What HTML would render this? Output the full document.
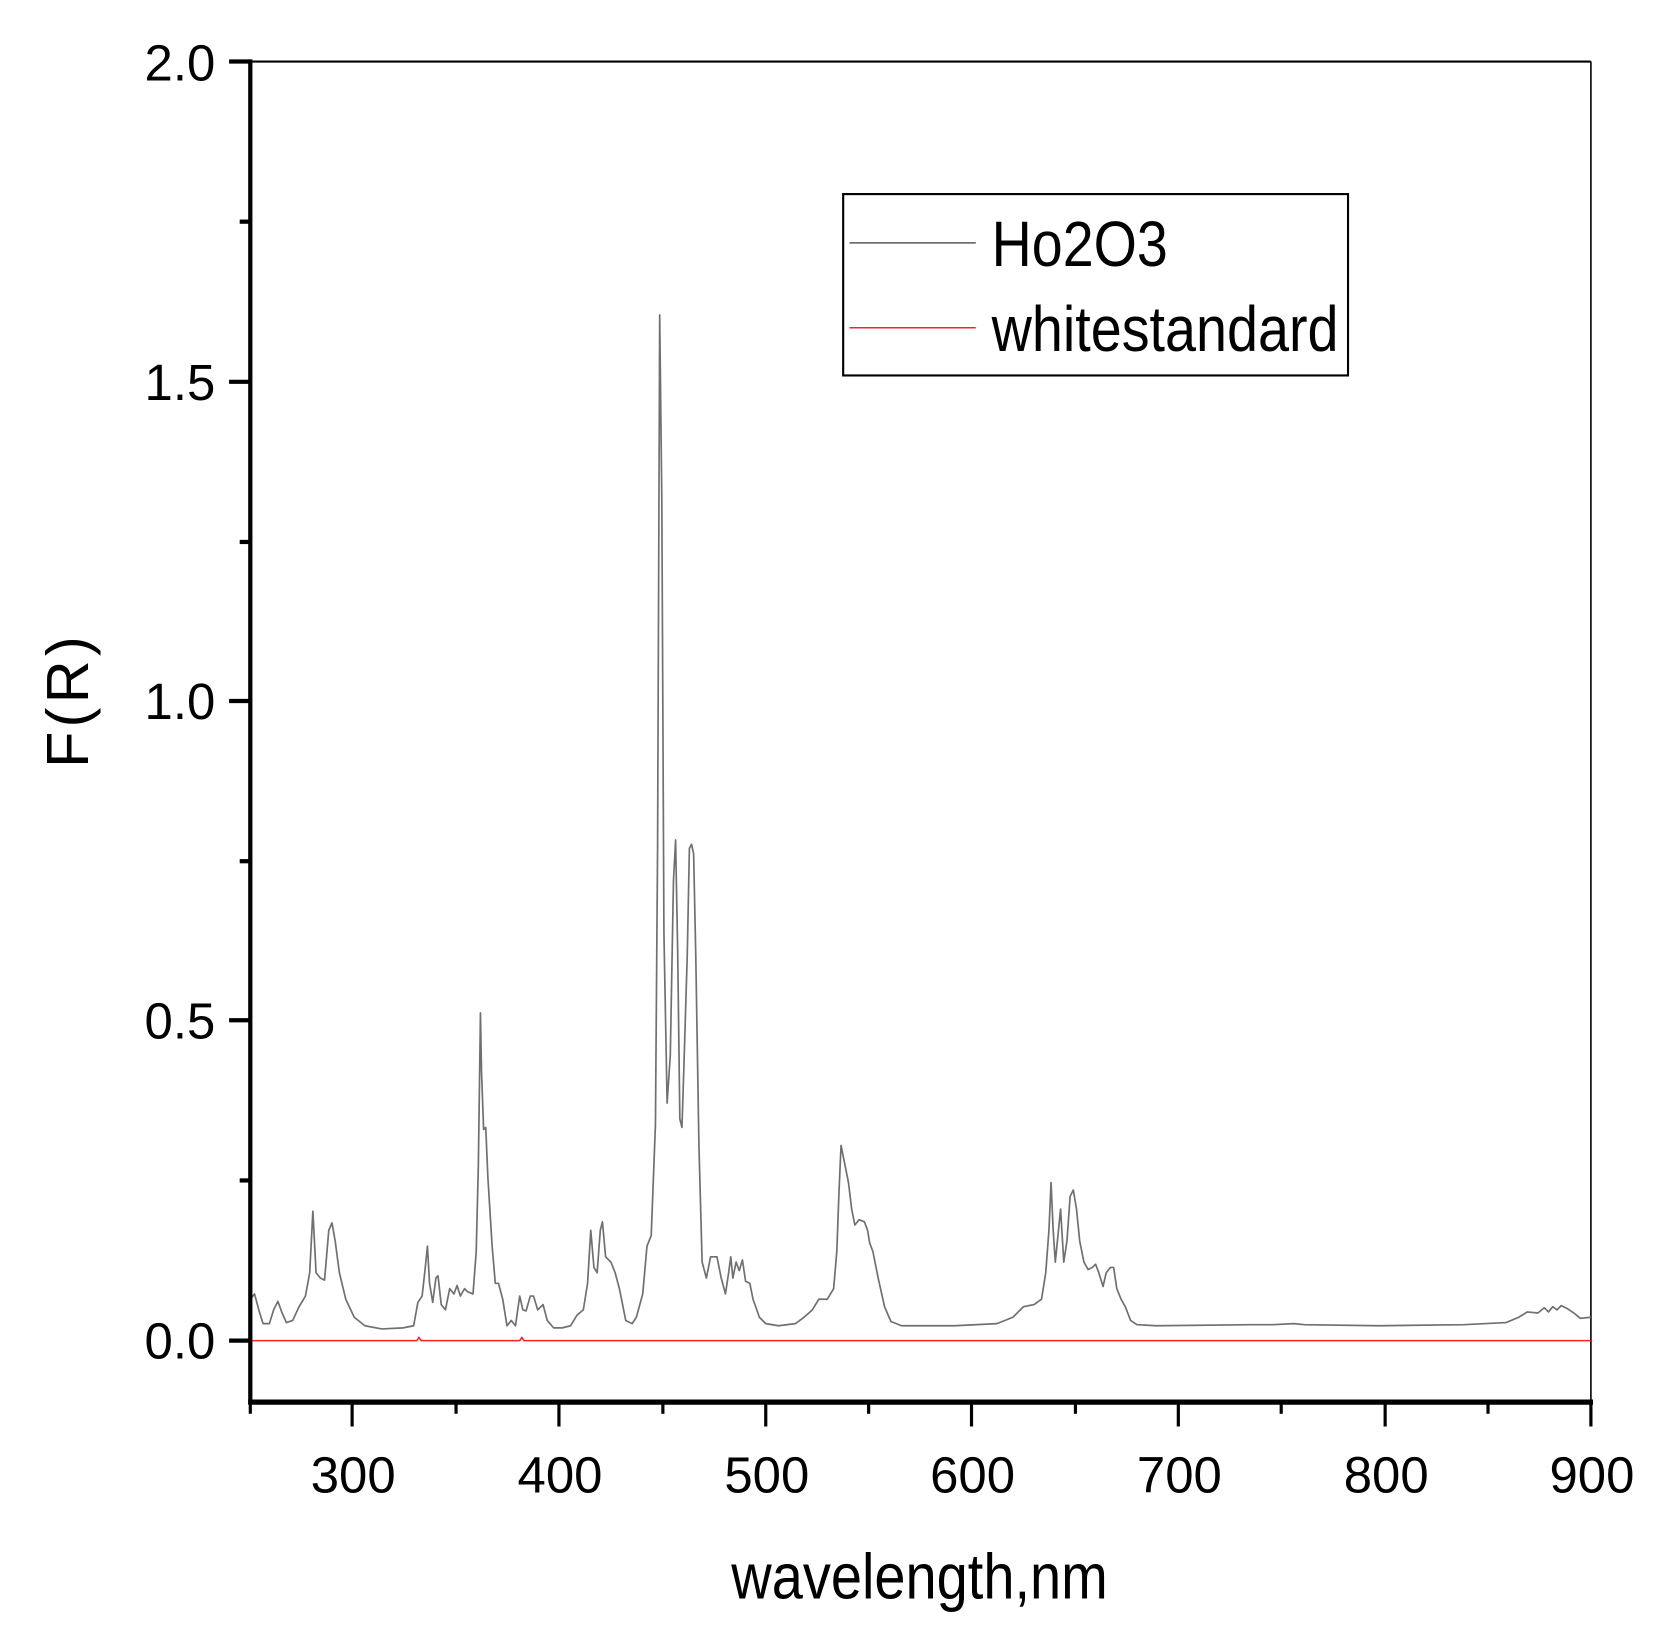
<!DOCTYPE html>
<html><head><meta charset="utf-8"><style>
html,body{margin:0;padding:0;background:#fff;}
svg{display:block;}
text{font-family:"Liberation Sans",Arial,sans-serif;fill:#000;}
</style></head><body>
<svg width="1662" height="1640" viewBox="0 0 1662 1640" xmlns="http://www.w3.org/2000/svg">
<g transform="scale(1.0606)">
<line x1="236" y1="58" x2="1500" y2="58" stroke="#000" stroke-width="2"/>
<line x1="1500" y1="58" x2="1500" y2="1322" stroke="#000" stroke-width="1.5"/>
<polyline fill="none" stroke="#ff2020" stroke-width="1.4" points="236,1264 393,1264 395,1261 397,1264 490,1264 492,1261 494,1264 1500,1264"/>
<polyline fill="none" stroke="#707070" stroke-width="1.6" stroke-linejoin="round" points="236,1225 240,1220 244,1235 248,1248 254,1248 258,1235 262,1227 266,1238 270,1247 276,1245 282,1232 288,1222 292,1200 295,1142 298,1200 302,1205 306,1207 310,1160 313,1153 316,1170 320,1200 326,1225 334,1242 344,1250 360,1253 380,1252 390,1250 394,1228 398,1222 401,1195 403,1175 405,1210 408,1228 411,1205 413,1203 416,1230 420,1235 424,1215 428,1220 431,1212 434,1222 438,1215 441,1218 446,1220 449,1180 451,1100 453,955 454,1010 456,1065 458,1063 460,1110 464,1175 467,1210 470,1210 474,1225 478,1250 482,1245 486,1250 490,1222 493,1235 496,1236 500,1222 503,1222 507,1235 512,1230 516,1245 522,1252 530,1252 538,1250 544,1240 550,1235 554,1210 557,1160 560,1195 563,1200 566,1160 568,1152 571,1185 576,1190 580,1200 584,1215 590,1245 596,1248 600,1242 606,1220 610,1175 614,1165 618,1060 620,800 622,297 624,470 626,880 629,1040 632,995 635,830 637,792 639,900 641,1055 643,1063 645,1000 648,900 650,800 652,796 654,805 656,900 659,1080 662,1190 666,1205 670,1185 676,1185 680,1205 684,1220 687,1200 689,1185 691,1205 694,1190 697,1198 700,1188 703,1208 707,1210 710,1225 716,1242 722,1248 734,1250 750,1248 758,1242 766,1235 772,1225 780,1225 786,1215 789,1180 791,1125 793,1080 796,1095 800,1115 803,1140 806,1155 810,1150 815,1152 818,1160 820,1172 823,1180 828,1205 834,1232 840,1246 850,1250 900,1250 940,1248 955,1242 965,1232 975,1230 982,1225 986,1200 989,1160 991,1115 993,1160 995,1190 998,1160 1000,1140 1003,1190 1006,1170 1009,1128 1012,1122 1015,1140 1018,1170 1022,1190 1026,1197 1030,1195 1033,1192 1036,1200 1040,1213 1043,1200 1047,1195 1050,1195 1053,1215 1057,1225 1061,1232 1066,1245 1072,1249 1090,1250 1180,1249 1200,1249 1220,1248 1230,1249 1300,1250 1380,1249 1420,1247 1432,1242 1440,1237 1450,1238 1456,1233 1460,1237 1464,1232 1468,1235 1472,1231 1478,1234 1484,1238 1490,1243 1500,1242"/>
<line x1="236" y1="56" x2="236" y2="1324" stroke="#000" stroke-width="4"/>
<line x1="234" y1="1322" x2="1502" y2="1322" stroke="#000" stroke-width="5"/>
<g stroke="#000" stroke-width="4">
<line x1="216" y1="58" x2="236" y2="58"/><line x1="226" y1="209" x2="236" y2="209"/>
<line x1="216" y1="360" x2="236" y2="360"/><line x1="226" y1="511" x2="236" y2="511"/>
<line x1="216" y1="661" x2="236" y2="661"/><line x1="226" y1="812" x2="236" y2="812"/>
<line x1="216" y1="962" x2="236" y2="962"/><line x1="226" y1="1113" x2="236" y2="1113"/>
<line x1="216" y1="1264" x2="236" y2="1264"/>
</g>
<g stroke="#000" stroke-width="3">
<line x1="236" y1="1322" x2="236" y2="1333"/><line x1="332" y1="1322" x2="332" y2="1345"/>
<line x1="430" y1="1322" x2="430" y2="1333"/><line x1="527" y1="1322" x2="527" y2="1345"/>
<line x1="625" y1="1322" x2="625" y2="1333"/><line x1="722" y1="1322" x2="722" y2="1345"/>
<line x1="819" y1="1322" x2="819" y2="1333"/><line x1="916" y1="1322" x2="916" y2="1345"/>
<line x1="1014" y1="1322" x2="1014" y2="1333"/><line x1="1111" y1="1322" x2="1111" y2="1345"/>
<line x1="1208" y1="1322" x2="1208" y2="1333"/><line x1="1306" y1="1322" x2="1306" y2="1345"/>
<line x1="1403" y1="1322" x2="1403" y2="1333"/><line x1="1500" y1="1322" x2="1500" y2="1345"/>
</g>
<g font-size="48" text-anchor="end">
<text x="203" y="76">2.0</text><text x="203" y="377">1.5</text>
<text x="203" y="678">1.0</text><text x="203" y="979">0.5</text>
<text x="203" y="1281">0.0</text>
</g>
<g font-size="48" text-anchor="middle">
<text x="333" y="1407">300</text><text x="528" y="1407">400</text>
<text x="723" y="1407">500</text><text x="917" y="1407">600</text>
<text x="1112" y="1407">700</text><text x="1307" y="1407">800</text>
<text x="1501" y="1407">900</text>
</g>
<text x="867" y="1507" font-size="60" text-anchor="middle" textLength="355" lengthAdjust="spacingAndGlyphs">wavelength,nm</text>
<text transform="translate(83,660) rotate(-90)" font-size="56" text-anchor="middle" letter-spacing="4">F(R)</text>
<rect x="795" y="183" width="476" height="171" fill="#fff" stroke="#000" stroke-width="2"/>
<line x1="801" y1="229" x2="920" y2="229" stroke="#707070" stroke-width="1.6"/>
<line x1="801" y1="309" x2="920" y2="309" stroke="#ff2020" stroke-width="1.4"/>
<text x="935" y="251" font-size="60" textLength="166" lengthAdjust="spacingAndGlyphs">Ho2O3</text>
<text x="935" y="331" font-size="60" textLength="327" lengthAdjust="spacingAndGlyphs">whitestandard</text>
</g>
</svg>
</body></html>
